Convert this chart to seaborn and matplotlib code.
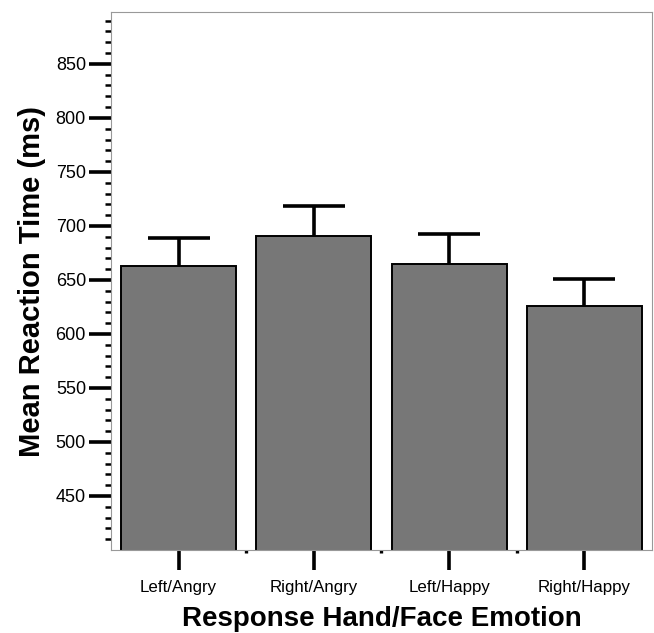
import numpy as np
import pandas as pd
import seaborn as sns
import matplotlib
matplotlib.use("Agg")
import matplotlib.pyplot as plt
from matplotlib.ticker import FixedLocator

# Values
conditions = ["Left/Angry", "Right/Angry", "Left/Happy", "Right/Happy"]
mean_rt = [663, 690.5, 664.5, 626]
err_up = [26, 28, 28, 24.5]   # only the upper half of the error bar is drawn

y_major = [450, 500, 550, 600, 650, 700, 750, 800, 850]
y_minor = [v for v in range(410, 900, 10) if v % 50 != 0]

sns.set_style("white")
plt.rcParams['font.family'] = ['Liberation Sans', 'DejaVu Sans']
plt.rcParams['text.color'] = 'black'
plt.rcParams['axes.labelcolor'] = 'black'
plt.rcParams['xtick.color'] = 'black'
plt.rcParams['ytick.color'] = 'black'

df = pd.DataFrame({"cond": conditions, "rt": mean_rt})

fig = plt.figure(figsize=(6.54, 6.33), dpi=100)
ax = fig.add_axes([0.1697, 0.1311, 0.8272, 0.8499])

sns.barplot(data=df, x="cond", y="rt", order=conditions, errorbar=None,
            color="#777777", saturation=1, width=0.85,
            edgecolor="black", linewidth=1.4, ax=ax)

# one-sided error bars, drop the cap sitting on the bar top
eb = ax.errorbar(np.arange(len(conditions)), mean_rt,
                 yerr=[np.zeros(len(err_up)), err_up], fmt="none",
                 ecolor="black", elinewidth=2.6, capsize=22.3, capthick=2.6, zorder=3)
for cap in eb[1]:
    if np.allclose(cap.get_ydata(), mean_rt):
        cap.set_visible(False)

ax.set_xlim(-0.5, 3.5)
ax.set_ylim(400, 898)

ax.yaxis.set_major_locator(FixedLocator(y_major))
ax.yaxis.set_minor_locator(FixedLocator(y_minor))
ax.xaxis.set_minor_locator(FixedLocator([0.5, 1.5, 2.5]))

ax.tick_params(axis="y", which="major", direction="out", length=16, width=2.6,
               colors="black", labelsize=13, pad=2, left=True)
ax.tick_params(axis="y", which="minor", direction="out", length=4, width=1.8,
               colors="black", left=True)
ax.tick_params(axis="x", which="major", direction="out", length=14.4, width=2.6,
               colors="black", labelsize=12.2, pad=7, bottom=True)
ax.tick_params(axis="x", which="minor", direction="out", length=2.2, width=2.4,
               colors="black", bottom=True)

for s in ax.spines.values():
    s.set_color("#999999")
    s.set_linewidth(0.8)

ax.set_xlabel("Response Hand/Face Emotion", fontsize=20, fontweight="bold", labelpad=8)
ax.set_ylabel("Mean Reaction Time (ms)", fontsize=21, fontweight="bold", labelpad=7)

plt.savefig("out.png", dpi=100)
